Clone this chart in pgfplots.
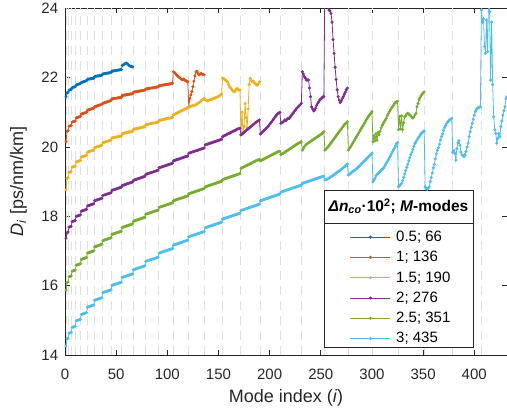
\documentclass[border=0pt]{standalone}
\usepackage{fontspec}
\setmainfont{Liberation Sans}
\usepackage{pgfplots}
\usepackage{pgfplotstable}
\pgfplotsset{compat=1.18}
\definecolor{c1}{RGB}{0,114,189}
\definecolor{c2}{RGB}{217,83,25}
\definecolor{c3}{RGB}{237,177,32}
\definecolor{c4}{RGB}{126,47,142}
\definecolor{c5}{RGB}{119,172,48}
\definecolor{c6}{RGB}{77,190,238}
\definecolor{axc}{RGB}{38,38,38}

\pgfplotstableread[row sep=\\,header=false]{
21.45\\
21.56\\21.58\\
21.64\\21.65\\21.66\\
21.71\\21.72\\21.73\\21.74\\
21.79\\21.80\\21.81\\21.82\\21.83\\
21.86\\21.87\\21.88\\21.89\\21.90\\21.91\\
21.95\\21.96\\21.96\\21.97\\21.97\\21.98\\21.98\\
22.03\\22.04\\22.04\\22.05\\22.05\\22.06\\22.06\\22.07\\
22.11\\22.11\\22.12\\22.12\\22.13\\22.13\\22.14\\22.14\\22.15\\
22.19\\22.19\\22.20\\22.20\\22.21\\22.21\\22.22\\22.22\\22.23\\22.23\\
22.35\\22.37\\22.39\\22.41\\22.42\\22.40\\22.37\\22.34\\22.33\\22.32\\22.31\\
}\tblA

\pgfplotstableread[row sep=\\,header=false]{
20.15\\
20.45\\20.47\\
20.60\\20.61\\20.62\\
20.72\\20.73\\20.74\\20.75\\
20.84\\20.85\\20.86\\20.87\\20.88\\
20.95\\20.96\\20.97\\20.98\\20.99\\21.00\\
21.06\\21.07\\21.08\\21.09\\21.10\\21.11\\21.12\\
21.16\\21.17\\21.18\\21.19\\21.20\\21.21\\21.22\\21.23\\
21.26\\21.27\\21.28\\21.29\\21.30\\21.31\\21.32\\21.33\\21.34\\
21.39\\21.39\\21.40\\21.40\\21.41\\21.41\\21.42\\21.42\\21.43\\21.43\\
21.49\\21.49\\21.50\\21.50\\21.51\\21.51\\21.52\\21.52\\21.53\\21.53\\21.54\\
21.58\\21.59\\21.59\\21.60\\21.60\\21.61\\21.61\\21.62\\21.62\\21.63\\21.63\\21.64\\
21.67\\21.68\\21.68\\21.69\\21.69\\21.70\\21.70\\21.71\\21.71\\21.72\\21.72\\21.73\\21.73\\
21.77\\21.77\\21.78\\21.78\\21.79\\21.79\\21.80\\21.80\\21.81\\21.81\\21.82\\21.82\\21.83\\21.84\\
22.17\\22.15\\22.12\\22.08\\22.05\\22.02\\22.00\\21.97\\21.95\\21.94\\21.96\\21.93\\21.91\\21.90\\21.88\\
21.15\\21.40\\21.50\\21.60\\21.74\\21.90\\22.05\\22.17\\22.18\\22.12\\22.08\\22.10\\22.12\\22.10\\22.09\\22.08\\
}\tblB

\pgfplotstableread[row sep=\\,header=false]{
18.76\\
19.09\\19.11\\
19.27\\19.28\\19.29\\
19.42\\19.43\\19.44\\19.45\\
19.57\\19.58\\19.59\\19.60\\19.61\\
19.71\\19.72\\19.73\\19.74\\19.75\\19.76\\
19.85\\19.86\\19.87\\19.88\\19.89\\19.90\\19.91\\
19.98\\19.99\\20.00\\20.01\\20.02\\20.03\\20.04\\20.05\\
20.12\\20.13\\20.14\\20.15\\20.16\\20.17\\20.18\\20.19\\20.20\\
20.26\\20.27\\20.27\\20.28\\20.29\\20.29\\20.30\\20.31\\20.31\\20.32\\
20.39\\20.39\\20.40\\20.41\\20.41\\20.42\\20.43\\20.43\\20.44\\20.45\\20.45\\
20.51\\20.52\\20.52\\20.53\\20.54\\20.54\\20.55\\20.56\\20.56\\20.57\\20.58\\20.58\\
20.64\\20.65\\20.65\\20.66\\20.67\\20.67\\20.68\\20.69\\20.69\\20.70\\20.71\\20.71\\20.72\\
20.77\\20.77\\20.78\\20.79\\20.79\\20.80\\20.81\\20.81\\20.82\\20.83\\20.83\\20.84\\20.85\\20.85\\
20.93\\20.94\\20.96\\20.97\\20.99\\21.00\\21.02\\21.03\\21.05\\21.06\\21.07\\21.09\\21.10\\21.12\\21.13\\
21.15\\21.16\\21.17\\21.18\\21.19\\21.20\\21.21\\21.22\\21.24\\21.26\\21.28\\21.30\\21.33\\21.36\\21.38\\21.40\\
21.36\\21.35\\21.34\\21.34\\21.35\\21.36\\21.37\\21.38\\21.40\\21.41\\21.42\\21.43\\21.44\\21.46\\21.48\\21.50\\21.52\\
21.99\\21.97\\21.95\\21.93\\21.90\\21.87\\21.80\\21.74\\21.70\\21.66\\21.62\\21.60\\21.60\\21.65\\21.69\\21.67\\21.64\\21.64\\
20.35\\21.00\\20.40\\20.60\\21.25\\20.85\\20.55\\21.10\\21.80\\21.98\\21.92\\21.88\\21.90\\21.85\\21.82\\21.80\\21.78\\21.82\\21.88\\
}\tblC

\pgfplotstableread[row sep=\\,header=false]{
17.37\\
17.52\\17.55\\
17.69\\17.70\\17.71\\
17.85\\17.86\\17.87\\17.88\\
18.00\\18.01\\18.02\\18.03\\18.04\\
18.15\\18.16\\18.17\\18.18\\18.19\\18.20\\
18.30\\18.31\\18.32\\18.33\\18.34\\18.35\\18.36\\
18.45\\18.46\\18.47\\18.48\\18.49\\18.50\\18.51\\18.52\\
18.60\\18.61\\18.62\\18.63\\18.64\\18.65\\18.66\\18.67\\18.68\\
18.75\\18.76\\18.77\\18.78\\18.79\\18.80\\18.81\\18.82\\18.83\\18.84\\
18.89\\18.90\\18.91\\18.92\\18.93\\18.94\\18.95\\18.96\\18.97\\18.98\\18.99\\
19.04\\19.05\\19.06\\19.07\\19.08\\19.09\\19.10\\19.11\\19.12\\19.13\\19.14\\19.15\\
19.21\\19.22\\19.23\\19.24\\19.25\\19.26\\19.27\\19.28\\19.29\\19.30\\19.31\\19.32\\19.33\\
19.40\\19.41\\19.42\\19.43\\19.44\\19.45\\19.46\\19.47\\19.48\\19.49\\19.50\\19.51\\19.52\\19.53\\
19.60\\19.61\\19.62\\19.63\\19.64\\19.65\\19.66\\19.67\\19.68\\19.69\\19.70\\19.71\\19.72\\19.73\\19.74\\
19.82\\19.83\\19.84\\19.85\\19.86\\19.87\\19.88\\19.89\\19.90\\19.91\\19.92\\19.93\\19.94\\19.95\\19.96\\19.97\\
20.06\\20.07\\20.08\\20.09\\20.10\\20.11\\20.12\\20.13\\20.14\\20.15\\20.16\\20.17\\20.18\\20.19\\20.20\\20.21\\20.22\\
20.30\\20.31\\20.33\\20.34\\20.36\\20.37\\20.39\\20.40\\20.42\\20.43\\20.45\\20.46\\20.48\\20.49\\20.51\\20.52\\20.53\\20.54\\
20.35\\20.37\\20.40\\20.42\\20.45\\20.47\\20.50\\20.52\\20.55\\20.57\\20.60\\20.62\\20.65\\20.67\\20.70\\20.72\\20.74\\20.76\\20.78\\
20.37\\20.40\\20.43\\20.46\\20.49\\20.52\\20.55\\20.58\\20.61\\20.65\\20.69\\20.73\\20.77\\20.81\\20.85\\20.89\\20.93\\20.96\\20.98\\21.00\\
20.68\\20.70\\20.72\\20.75\\20.78\\20.76\\20.80\\20.83\\20.82\\20.86\\20.90\\20.94\\20.98\\21.02\\21.06\\21.10\\21.13\\21.16\\21.19\\21.22\\21.26\\
22.17\\22.10\\22.03\\21.98\\21.93\\21.93\\21.93\\21.70\\21.45\\21.16\\21.10\\21.04\\21.06\\21.12\\21.20\\21.26\\21.30\\21.36\\21.38\\21.41\\21.44\\21.45\\
24.80\\25.00\\24.60\\24.20\\23.95\\23.92\\23.85\\23.60\\23.10\\22.70\\22.30\\21.95\\21.65\\21.45\\21.35\\21.28\\21.33\\21.40\\21.45\\21.52\\21.58\\21.65\\21.70\\
}\tblD

\pgfplotstableread[row sep=\\,header=false]{
15.87\\
16.09\\16.10\\
16.26\\16.27\\16.28\\
16.42\\16.43\\16.44\\16.45\\
16.59\\16.60\\16.61\\16.62\\16.63\\
16.76\\16.77\\16.78\\16.79\\16.80\\16.81\\
16.94\\16.95\\16.96\\16.97\\16.98\\16.99\\17.00\\
17.12\\17.13\\17.14\\17.15\\17.16\\17.17\\17.18\\17.19\\
17.30\\17.31\\17.32\\17.33\\17.34\\17.35\\17.36\\17.37\\17.38\\
17.48\\17.49\\17.50\\17.51\\17.52\\17.53\\17.54\\17.55\\17.56\\17.57\\
17.68\\17.69\\17.70\\17.71\\17.72\\17.73\\17.74\\17.75\\17.76\\17.77\\17.78\\
17.86\\17.87\\17.88\\17.89\\17.90\\17.91\\17.92\\17.93\\17.94\\17.95\\17.96\\17.97\\
18.06\\18.07\\18.08\\18.09\\18.10\\18.11\\18.12\\18.13\\18.14\\18.15\\18.16\\18.17\\18.18\\
18.26\\18.27\\18.28\\18.29\\18.30\\18.31\\18.32\\18.33\\18.34\\18.35\\18.36\\18.37\\18.38\\18.39\\
18.45\\18.46\\18.47\\18.48\\18.49\\18.50\\18.51\\18.52\\18.53\\18.54\\18.55\\18.56\\18.57\\18.58\\18.59\\
18.65\\18.66\\18.67\\18.68\\18.69\\18.70\\18.71\\18.72\\18.73\\18.74\\18.75\\18.76\\18.77\\18.78\\18.79\\18.80\\
18.85\\18.86\\18.87\\18.88\\18.89\\18.90\\18.91\\18.92\\18.93\\18.94\\18.95\\18.96\\18.97\\18.98\\18.99\\19.00\\19.01\\
19.06\\19.07\\19.08\\19.09\\19.10\\19.11\\19.12\\19.13\\19.14\\19.15\\19.16\\19.17\\19.18\\19.19\\19.20\\19.21\\19.22\\19.23\\
19.38\\19.40\\19.41\\19.43\\19.44\\19.46\\19.47\\19.49\\19.50\\19.52\\19.53\\19.55\\19.56\\19.58\\19.59\\19.61\\19.62\\19.63\\19.64\\
19.60\\19.62\\19.63\\19.65\\19.66\\19.68\\19.69\\19.71\\19.72\\19.74\\19.75\\19.77\\19.78\\19.80\\19.81\\19.83\\19.84\\19.86\\19.87\\19.88\\
19.78\\19.80\\19.81\\19.83\\19.85\\19.87\\19.89\\19.91\\19.93\\19.95\\19.97\\19.99\\20.01\\20.03\\20.05\\20.07\\20.09\\20.11\\20.12\\20.14\\20.15\\
19.91\\19.96\\20.01\\20.05\\20.08\\20.10\\20.12\\20.14\\20.16\\20.18\\20.20\\20.22\\20.24\\20.26\\20.28\\20.30\\20.32\\20.34\\20.36\\20.38\\20.41\\20.44\\
19.91\\19.94\\19.97\\20.00\\20.04\\20.08\\20.12\\20.16\\20.20\\20.24\\20.28\\20.32\\20.36\\20.40\\20.44\\20.48\\20.52\\20.56\\20.60\\20.64\\20.67\\20.70\\20.73\\
19.91\\19.96\\20.00\\20.05\\20.10\\20.15\\20.20\\20.25\\20.30\\20.35\\20.40\\20.45\\20.50\\20.55\\20.60\\20.65\\20.70\\20.75\\20.80\\20.85\\20.90\\20.94\\20.98\\21.02\\
20.15\\20.32\\20.18\\20.38\\20.20\\20.42\\20.35\\20.45\\20.55\\20.62\\20.68\\20.73\\20.78\\20.83\\20.90\\20.96\\21.02\\21.07\\21.12\\21.16\\21.20\\21.25\\21.28\\21.30\\21.32\\
20.50\\20.88\\20.52\\20.90\\20.50\\20.70\\20.87\\20.90\\20.95\\20.97\\20.95\\20.92\\20.90\\20.86\\20.83\\20.86\\20.92\\20.97\\21.16\\21.25\\21.36\\21.42\\21.48\\21.52\\21.56\\21.59\\
}\tblE

\pgfplotstableread[row sep=\\,header=false]{
14.26\\
14.47\\14.48\\
14.63\\14.64\\14.65\\
14.80\\14.81\\14.82\\14.83\\
14.99\\15.00\\15.01\\15.02\\15.03\\
15.17\\15.18\\15.19\\15.20\\15.21\\15.22\\
15.38\\15.39\\15.40\\15.41\\15.42\\15.43\\15.44\\
15.58\\15.59\\15.60\\15.61\\15.62\\15.63\\15.64\\15.65\\
15.80\\15.81\\15.82\\15.83\\15.84\\15.85\\15.86\\15.87\\15.88\\
16.01\\16.02\\16.03\\16.04\\16.05\\16.06\\16.07\\16.08\\16.09\\16.10\\
16.24\\16.25\\16.26\\16.27\\16.28\\16.29\\16.30\\16.31\\16.32\\16.33\\16.34\\
16.46\\16.47\\16.48\\16.49\\16.50\\16.51\\16.52\\16.53\\16.54\\16.55\\16.56\\16.57\\
16.70\\16.71\\16.72\\16.73\\16.74\\16.75\\16.76\\16.77\\16.78\\16.79\\16.80\\16.81\\16.82\\
16.94\\16.95\\16.96\\16.97\\16.98\\16.99\\17.00\\17.01\\17.02\\17.03\\17.04\\17.05\\17.06\\17.07\\
17.17\\17.18\\17.19\\17.20\\17.21\\17.22\\17.23\\17.24\\17.25\\17.26\\17.27\\17.28\\17.29\\17.30\\17.31\\
17.41\\17.42\\17.43\\17.44\\17.45\\17.46\\17.47\\17.48\\17.49\\17.50\\17.51\\17.52\\17.53\\17.54\\17.55\\17.56\\
17.67\\17.68\\17.69\\17.70\\17.71\\17.72\\17.73\\17.74\\17.75\\17.76\\17.77\\17.78\\17.79\\17.80\\17.81\\17.82\\17.83\\
17.92\\17.93\\17.94\\17.95\\17.96\\17.97\\17.98\\17.99\\18.00\\18.01\\18.02\\18.03\\18.04\\18.05\\18.06\\18.07\\18.08\\18.09\\
18.17\\18.18\\18.19\\18.20\\18.21\\18.22\\18.23\\18.24\\18.25\\18.26\\18.27\\18.28\\18.29\\18.30\\18.31\\18.32\\18.33\\18.34\\18.35\\
18.45\\18.46\\18.47\\18.48\\18.49\\18.50\\18.51\\18.52\\18.53\\18.54\\18.55\\18.56\\18.57\\18.58\\18.59\\18.60\\18.61\\18.62\\18.63\\18.64\\
18.70\\18.71\\18.72\\18.73\\18.74\\18.75\\18.76\\18.77\\18.78\\18.79\\18.80\\18.81\\18.82\\18.83\\18.84\\18.85\\18.86\\18.87\\18.88\\18.89\\18.90\\
18.95\\18.96\\18.97\\18.98\\18.99\\19.00\\19.01\\19.02\\19.03\\19.04\\19.05\\19.06\\19.07\\19.08\\19.09\\19.10\\19.11\\19.12\\19.13\\19.14\\19.15\\19.16\\
19.05\\19.06\\19.07\\19.08\\19.10\\19.12\\19.14\\19.16\\19.18\\19.20\\19.22\\19.25\\19.27\\19.29\\19.31\\19.33\\19.35\\19.38\\19.40\\19.43\\19.45\\19.48\\19.51\\
19.19\\19.21\\19.24\\19.27\\19.29\\19.31\\19.33\\19.35\\19.37\\19.40\\19.43\\19.46\\19.49\\19.52\\19.55\\19.58\\19.61\\19.64\\19.67\\19.70\\19.73\\19.76\\19.79\\19.82\\
19.00\\19.05\\19.10\\19.17\\19.21\\19.24\\19.27\\19.30\\19.33\\19.36\\19.38\\19.43\\19.48\\19.53\\19.58\\19.63\\19.69\\19.74\\19.80\\19.86\\19.92\\19.97\\20.03\\20.10\\20.13\\
18.85\\18.88\\18.92\\18.95\\19.03\\19.12\\19.22\\19.32\\19.41\\19.50\\19.60\\19.69\\19.78\\19.85\\19.93\\20.02\\20.10\\20.15\\20.20\\20.25\\20.29\\20.34\\20.38\\20.41\\20.44\\20.46\\
18.85\\18.80\\18.78\\18.82\\18.85\\19.00\\19.12\\19.25\\19.40\\19.50\\19.66\\19.80\\19.90\\19.98\\20.08\\20.20\\20.30\\20.38\\20.48\\20.56\\20.62\\20.68\\20.72\\20.75\\20.78\\20.80\\20.83\\
19.85\\19.90\\19.82\\19.62\\19.95\\20.12\\20.18\\20.05\\19.85\\19.77\\19.75\\19.72\\19.78\\19.87\\20.00\\20.11\\20.30\\20.44\\20.56\\20.68\\20.80\\20.92\\21.02\\21.08\\21.12\\21.13\\21.15\\21.16\\
23.95\\23.60\\23.70\\22.90\\22.70\\23.66\\22.75\\24.30\\23.90\\21.93\\23.60\\21.80\\20.87\\20.50\\20.39\\20.11\\20.25\\20.39\\20.30\\20.59\\20.75\\20.92\\21.05\\21.16\\21.40\\21.45\\21.50\\21.55\\21.60\\
}\tblF

\begin{document}
\begin{tikzpicture}
\begin{axis}[
  width=442pt, height=346.7pt, scale only axis,
  xmin=0, xmax=432, ymin=14, ymax=24,
  xtick={0,50,...,400}, ytick={14,16,...,24},
  axis line style={axc, line width=0.6pt},
  every tick/.style={axc, line width=0.6pt},
  major tick length=5pt,
  tick label style={font=\fontsize{15}{18}\selectfont, text=axc, inner sep=0pt},
  xticklabel style={anchor=base, yshift=-25pt},
  yticklabel style={anchor=east, xshift=-6.7pt},
  /pgf/number format/assume math mode=true,
  xlabel={Mode index (\textit{i})},
  ylabel={\textit{D}\textsubscript{\textit{i}} [ps/nm/km]},
  every axis x label/.style={at={(axis description cs:0.5,-0.1384)}, anchor=base, font=\fontsize{18}{21}\selectfont, text=axc},
  every axis y label/.style={at={(axis description cs:-0.095,0.5)}, rotate=90, anchor=base, font=\fontsize{18}{21}\selectfont, text=axc},
  extra x ticks={1.5,3.5,6.5,10.5,15.5,21.5,28.5,36.5,45.5,55.5,66.5,78.5,91.5,105.5,120.5,136.5,153.5,171.5,190.5,210.5,231.5,253.5,276.5,300.5,325.5,351.5,378.5,406.5},
  extra x tick labels={},
  extra x tick style={grid=major, major tick length=0pt, major grid style={black!12, dash pattern=on 9pt off 6pt, line width=0.8pt}},
  every axis plot/.append style={line width=0.8pt, mark=*, mark size=1.1pt},
  legend style={at={(axis description cs:0.645,0.363)}, anchor=north west, draw=none, fill=none, inner sep=0pt, outer sep=0pt, font=\fontsize{15}{18}\selectfont, row sep=4.3pt, /tikz/every odd column/.style={column sep=3.3pt}},
  legend cell align=left,
  legend image code/.code={\draw[#1, mark repeat=2, mark phase=2] plot coordinates {(0pt,0pt) (20pt,0pt) (40pt,0pt)};},
]
\addplot[c1] table[x expr=\coordindex+1, y index=0] {\tblA};
\addlegendentry{0.5; 66}
\addplot[c2] table[x expr=\coordindex+1, y index=0] {\tblB};
\addlegendentry{1; 136}
\addplot[c3] table[x expr=\coordindex+1, y index=0] {\tblC};
\addlegendentry{1.5; 190}
\addplot[c4] table[x expr=\coordindex+1, y index=0] {\tblD};
\addlegendentry{2; 276}
\addplot[c5] table[x expr=\coordindex+1, y index=0] {\tblE};
\addlegendentry{2.5; 351}
\addplot[c6] table[x expr=\coordindex+1, y index=0] {\tblF};
\addlegendentry{3; 435}
\fill[white] (axis description cs:0.586,0.023) rectangle (axis description cs:0.923,0.476);
\draw[axc, line width=0.6pt] (axis description cs:0.586,0.023) rectangle (axis description cs:0.923,0.476);
\draw[axc, line width=0.6pt] (axis description cs:0.586,0.381) -- (axis description cs:0.923,0.381);
\node[font=\fontsize{15.5}{18}\selectfont\bfseries, text=black] at (axis description cs:0.7545,0.4285) {\textit{Δn}\textsubscript{\textit{co}}·10\textsuperscript{2}; \textit{M}-modes};
\end{axis}
\pgfresetboundingbox
\path[use as bounding box] (current axis.south west) ++(-65pt,-57pt) rectangle ++(507pt,412pt);
\end{tikzpicture}
\end{document}
